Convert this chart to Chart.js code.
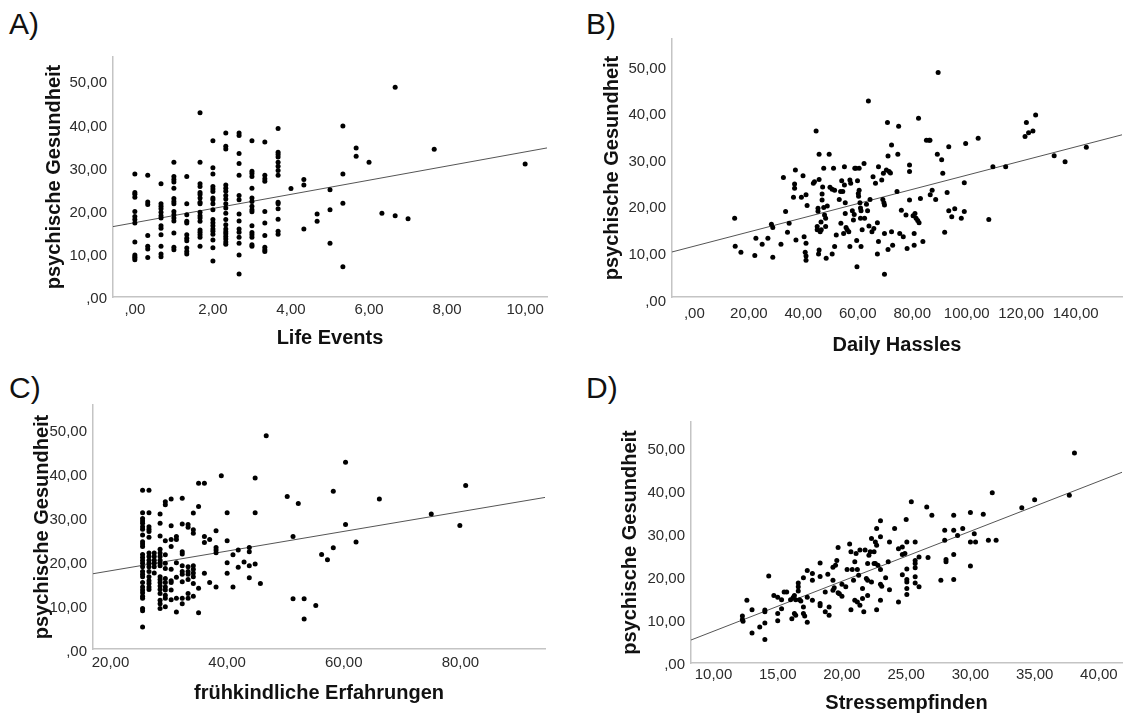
<!DOCTYPE html>
<html>
<head>
<meta charset="utf-8">
<script src="https://cdn.jsdelivr.net/npm/chart.js@4"></script>
<style>
  body { margin: 0; background: #fff; width: 1126px; height: 715px; position: relative; overflow: hidden;
         font-family: "Liberation Sans", Arial, sans-serif; }
  canvas { position: absolute; }
  .tag { position: absolute; font-size: 30px; line-height: 1; color: #111; }
</style>
</head>
<body>
<div class="tag" style="left:9px;top:9px">A)</div>
<div class="tag" style="left:586px;top:9px">B)</div>
<div class="tag" style="left:9px;top:373px">C)</div>
<div class="tag" style="left:586px;top:373px">D)</div>
<canvas id="chartA" width="560" height="360" style="left:0;top:0"></canvas>
<canvas id="chartB" width="566" height="360" style="left:560px;top:0"></canvas>
<canvas id="chartC" width="560" height="355" style="left:0;top:360px"></canvas>
<canvas id="chartD" width="566" height="355" style="left:560px;top:360px"></canvas>
<script>
// y axis is the same in all four panels
const yTitle = 'psychische Gesundheit';
const yTicks = [0, 10, 20, 30, 40, 50];

// A) Life Events - scores come in steps of 1/3, health values listed per step
const lifeEvents = [0, 0.33, 0.67, 1, 1.33, 1.67, 2, 2.33, 2.67, 3, 3.33, 3.67, 4, 4.33, 4.67, 5, 5.33, 5.67, 6, 6.33, 6.67, 7, 7.67, 10];
const healthByLifeEvents = [
  [29.0, 24.7, 24.3, 23.6, 20.3, 19.1, 18.4, 17.6, 13.2, 10.2, 9.8, 9.5, 9.1],
  [28.7, 22.5, 21.9, 14.7, 12.2, 11.6, 9.6],
  [26.7, 22.1, 21.5, 20.9, 20.1, 19.3, 18.8, 17.0, 16.4, 14.9, 12.2, 10.4, 9.8],
  [31.7, 28.4, 27.7, 27.1, 25.7, 23.3, 22.6, 22.1, 20.3, 19.5, 18.8, 18.1, 15.3, 12.0, 11.4],
  [28.4, 22.1, 19.5, 18.0, 17.6, 14.9, 14.1, 13.5, 11.8, 11.0, 10.4],
  [43.2, 31.7, 26.7, 26.1, 24.7, 24.2, 23.4, 22.4, 22.1, 20.1, 19.3, 18.8, 18.0, 16.0, 15.5, 14.9, 14.3, 12.2],
  [36.7, 30.4, 29.0, 26.1, 25.5, 24.9, 23.4, 23.0, 22.1, 20.7, 18.4, 17.7, 17.0, 16.2, 15.7, 15.0, 13.7, 11.9, 8.8],
  [38.5, 35.4, 34.8, 26.4, 25.7, 25.0, 24.0, 23.2, 22.1, 21.1, 19.9, 18.4, 17.2, 16.2, 15.6, 15.1, 14.5, 13.9, 13.2, 12.7],
  [38.5, 37.9, 33.7, 31.4, 28.7, 24.0, 23.0, 19.7, 18.1, 16.2, 15.5, 14.3, 12.9, 10.2, 5.8],
  [36.7, 29.6, 29.1, 28.4, 25.7, 23.4, 22.6, 21.5, 20.7, 20.2, 17.0, 15.4, 14.9, 14.3, 12.6, 12.2],
  [36.4, 28.7, 27.9, 27.3, 20.3, 17.6, 14.7, 12.0, 11.4, 11.0],
  [39.5, 34.0, 33.5, 32.9, 31.7, 30.8, 29.8, 28.7, 22.4, 22.1, 20.9, 18.5, 15.7, 15.0],
  [25.6],
  [27.7, 26.4, 16.2],
  [19.7, 18.0],
  [25.3, 20.7, 12.9],
  [40.1, 29.0, 22.2, 7.5],
  [35.0, 33.1],
  [31.7],
  [19.9],
  [49.1, 19.3],
  [18.6],
  [34.7],
  [31.3]
];
const fitA = [17.7, 1.64];          // intercept, slope
const xTicksA = [0, 2, 4, 6, 8, 10];

// B) Daily Hassles - [hassles, health]
const hasslesPoints = [
  [14.8,17.9],[15.0,11.9],[17.1,10.6],[22.2,9.9],[22.6,13.6],[24.9,12.3],[27.0,13.6],[28.3,16.6],[28.8,15.9],[28.8,9.5],
  [31.8,12.3],[32.7,26.6],[33.5,19.3],[34.2,14.9],[34.8,16.8],[37.1,28.2],[36.8,25.2],[36.8,24.3],[36.4,22.4],[37.3,13.2],
  [39.3,22.4],[39.9,27.0],[40.3,13.9],[40.7,10.6],[41.0,9.8],[41.0,8.9],[41.0,22.9],[41.4,20.6],[41.0,12.5],[43.7,25.4],
  [44.1,25.7],[44.7,36.6],[45.4,20.0],[45.4,19.4],[45.1,16.1],[45.1,15.4],[45.6,10.2],[45.8,26.2],[45.8,31.6],[45.8,11.1],
  [46.2,15.0],[46.5,17.1],[46.6,15.4],[46.9,23.1],[46.9,21.8],[47.1,24.6],[47.5,28.6],[47.5,20.2],[47.8,18.6],[48.2,16.1],
  [48.2,17.9],[48.4,9.3],[48.8,20.5],[49.5,31.6],[49.8,24.5],[50.6,24.1],[50.6,10.2],[51.1,28.6],[51.5,11.8],[51.5,23.9],
  [52.1,14.3],[53.2,21.9],[53.7,23.6],[54.1,25.9],[53.8,16.8],[54.5,23.6],[54.8,14.6],[55.1,28.9],[55.1,25.0],[55.4,18.9],
  [55.4,21.2],[55.7,15.9],[56.1,15.4],[56.7,15.0],[57.1,26.1],[57.4,25.4],[57.1,11.8],[58.0,19.5],[58.4,17.5],[58.7,18.7],
  [58.9,28.6],[59.3,28.6],[59.6,13.1],[59.7,7.5],[59.9,25.9],[60.2,23.2],[60.3,22.6],[60.5,28.6],[60.5,23.9],[60.8,21.2],
  [61.0,20.1],[61.0,17.9],[61.2,19.5],[61.2,11.8],[61.6,15.4],[62.3,29.6],[62.5,17.9],[63.2,20.9],[63.6,19.5],[63.9,43.0],
  [64.1,16.2],[64.5,21.9],[65.2,15.0],[65.6,26.8],[65.9,15.7],[66.5,25.4],[67.2,16.9],[67.2,10.2],[67.6,28.9],[67.6,12.9],
  [68.8,26.1],[69.2,21.9],[69.4,27.5],[69.6,21.2],[69.8,20.7],[69.8,14.6],[69.8,5.9],[70.5,28.2],[70.9,38.4],[71.1,31.2],
  [71.1,11.2],[71.5,27.9],[72.0,27.6],[72.4,33.6],[72.4,15.0],[72.8,12.1],[74.4,23.6],[74.7,31.6],[75.0,37.6],[75.4,14.6],
  [76.0,19.6],[76.7,13.9],[77.7,18.6],[78.1,11.4],[79.0,29.3],[79.0,27.9],[79.0,21.8],[80.3,18.4],[80.7,14.6],[80.7,12.1],
  [81.0,18.9],[81.4,17.9],[82.0,17.4],[82.3,39.3],[82.5,16.9],[83.0,22.1],[83.9,12.9],[85.2,34.6],[86.2,34.6],[86.5,34.6],
  [86.6,22.9],[87.3,23.9],[88.6,21.9],[89.2,31.6],[89.5,49.1],[90.8,30.4],[91.2,27.5],[91.9,14.9],[92.8,23.4],[93.4,33.2],
  [93.4,19.5],[94.5,18.2],[95.6,19.9],[98.0,17.9],[99.1,19.3],[99.1,25.5],[99.6,33.9],[104.2,35.0],[108.1,17.6],[109.6,28.9],
  [114.3,28.9],[121.4,35.4],[121.9,38.4],[122.7,36.2],[124.3,36.6],[125.3,40.0],[132.1,31.3],[136.1,30.0],[143.9,33.1]
];
const fitB = [11.9, 0.152];
const xTicksB = [0, 20, 40, 60, 80, 100, 120, 140];

// C) fruehkindliche Erfahrungen - dense columns on the left, single cases to the right
const earlyExp = [25.5, 26.6, 27.5, 28.5, 29.4, 30.4, 31.3, 32.3, 33.3, 34.2, 35.1, 36.1, 37.0, 38.1, 39.0, 40.0, 41.0, 41.9, 42.9, 43.8, 44.8, 45.7, 46.7,
                  50.3, 51.3, 52.2, 53.2, 55.2, 56.2, 57.2, 58.2, 60.3, 62.1, 66.1, 75.0, 79.9, 80.9];
const healthByEarlyExp = [
  [36.8, 31.7, 30.4, 29.8, 29.3, 28.5, 27.9, 26.6, 25.1, 24.6, 24.0, 22.2, 21.5, 20.8, 20.2, 19.4, 18.3, 17.7, 17.1, 15.8, 14.8, 14.1, 13.5, 12.7, 12.2, 9.9, 9.4, 5.7],
  [36.8, 31.7, 28.5, 27.9, 27.4, 26.1, 22.5, 21.7, 20.9, 20.2, 19.4, 18.3, 17.1, 16.2, 15.6, 14.8, 14.2],
  [22.5, 21.7, 20.9, 20.2, 19.4, 18.0],
  [31.4, 29.3, 26.4, 23.4, 22.5, 21.7, 20.9, 20.2, 19.6, 17.1, 16.5, 15.8, 15.0, 14.2, 13.3, 11.8, 11.0, 9.9],
  [34.2, 33.5, 25.3, 22.1, 20.2, 19.0, 16.7, 15.8, 14.8, 14.1, 12.9, 12.2, 10.3],
  [34.8, 28.7, 25.6, 24.0, 18.8, 16.2, 15.8, 14.1, 11.9],
  [26.3, 25.6, 20.3, 17.0, 12.2, 9.1],
  [35.0, 29.1, 22.8, 22.3, 19.6, 18.3, 17.7, 16.0, 12.2, 11.0],
  [29.0, 28.4, 19.4, 18.3, 17.7, 16.5, 13.3, 12.2],
  [31.6, 27.8, 27.0, 19.6, 18.8, 18.0, 17.1, 15.6, 12.7],
  [38.4, 33.1, 14.5, 8.9],
  [38.4, 26.3, 24.9, 17.9],
  [25.6, 15.8],
  [27.6, 23.8, 23.2, 22.6, 14.8],
  [40.1],
  [31.7, 25.3, 20.3, 17.9],
  [22.1, 14.8],
  [23.2, 19.3],
  [20.5],
  [23.8, 22.8, 19.6, 16.9],
  [39.6, 31.7, 20.0],
  [15.6],
  [49.2],
  [35.4], [26.3, 12.1], [33.8], [12.1, 7.5], [10.6], [22.2], [21.0], [36.6, 23.7], [43.2, 29.0], [25.0], [34.8], [31.4], [28.8], [37.9]
];
const fitC = [14.0, 0.224];
const xTicksC = [20, 40, 60, 80];

// D) Stressempfinden - [stress, health]
const stressPoints = [
  [12.25,11.4],[12.25,10.6],[12.3,10.2],[12.6,15.1],[13.0,12.9],[13.0,7.5],[13.6,8.9],[14.0,12.4],[14.0,12.8],[14.0,9.8],
  [14.0,6.0],[14.3,20.7],[14.7,16.2],[15.0,12.0],[15.0,10.3],[15.0,15.8],[15.3,13.1],[15.3,15.2],[15.5,17.0],[15.7,17.0],
  [16.0,15.2],[16.1,10.8],[16.2,15.7],[16.3,12.0],[16.3,16.2],[16.4,11.6],[16.4,15.2],[16.6,19.1],[16.6,18.2],[16.6,17.2],
  [16.7,15.2],[16.8,14.9],[17.0,13.5],[17.0,20.3],[17.0,12.0],[17.1,11.4],[17.3,10.0],[17.3,22.0],[17.3,15.8],[17.7,21.3],
  [17.7,19.7],[17.7,15.1],[18.3,23.7],[18.3,20.6],[18.3,14.3],[18.3,13.8],[18.7,17.0],[18.7,12.4],[18.9,21.1],[19.0,13.5],
  [19.0,11.6],[19.3,22.7],[19.3,19.7],[19.3,17.4],[19.4,18.0],[19.5,23.2],[19.6,24.3],[19.7,27.3],[19.7,16.8],[19.8,16.6],
  [20.0,16.0],[20.0,18.8],[20.3,18.2],[20.4,22.2],[20.6,28.1],[20.7,12.9],[20.7,26.3],[20.8,22.2],[20.9,19.7],[21.0,24.0],
  [21.0,15.1],[21.1,25.9],[21.2,14.7],[21.2,22.2],[21.3,20.9],[21.4,13.9],[21.4,26.7],[21.6,15.5],[21.6,17.8],[21.7,12.4],
  [21.8,26.7],[21.9,20.1],[22.0,23.6],[22.0,16.2],[22.0,19.7],[22.1,25.5],[22.2,26.3],[22.3,29.4],[22.3,19.3],[22.5,23.6],
  [22.5,26.3],[22.6,28.6],[22.6,23.6],[22.7,31.7],[22.7,12.9],[22.7,27.8],[22.8,23.2],[23.0,22.2],[23.0,18.8],[23.0,33.5],
  [23.0,29.8],[23.0,15.1],[23.1,18.3],[23.4,20.3],[23.6,24.0],[23.7,28.6],[23.7,17.5],[24.1,31.7],[24.4,14.7],[24.4,27.0],
  [24.7,27.4],[24.7,25.7],[24.7,21.0],[24.9,25.9],[25.0,33.8],[25.05,28.6],[25.05,22.3],[25.05,19.9],[25.05,19.3],[25.05,17.8],
  [25.05,16.4],[25.4,37.9],[25.7,28.6],[25.7,24.3],[25.7,23.6],[25.7,22.6],[25.7,20.5],[25.7,19.1],[26.0,25.1],[26.0,18.2],
  [26.6,36.7],[26.7,25.0],[27.0,34.8],[27.7,19.7],[28.0,31.3],[28.0,29.0],[28.1,24.5],[28.1,24.0],[28.7,34.8],[28.7,31.3],
  [28.7,25.7],[28.7,19.9],[29.0,30.1],[29.4,31.7],[30.0,35.4],[30.0,28.6],[30.0,23.0],[30.3,30.5],[30.4,28.6],[31.0,35.0],
  [31.4,29.0],[31.7,40.0],[32.0,29.0],[34.0,36.5],[35.0,38.4],[37.7,39.4],[38.1,49.2]
];
const fitD = [-3.7, 1.159];
const xTicksD = [10, 15, 20, 25, 30, 35, 40];

function fromColumns(xs, cols) {
  const pts = [];
  xs.forEach((x, i) => cols[i].forEach(y => pts.push({x: x, y: y})));
  return pts;
}
function fromPairs(pairs) {
  return pairs.map(p => ({x: p[0], y: p[1]}));
}
// SPSS style german number: 2 decimals, comma, no leading zero
function fmt(v) {
  let s = Number(v).toFixed(2).replace('.', ',');
  if (s.startsWith('0,')) s = s.slice(1);
  return s;
}

const tickFont = {family: '"Liberation Sans", Arial, sans-serif', size: 15};
const titleFont = {family: '"Liberation Sans", Arial, sans-serif', size: 20, weight: 'bold'};

// SPSS puts the axis line a hair above zero, so yr[0] is slightly positive
function makeChart(id, points, fit, xr, yr, xTicks, xTitle, box) {
  const ends = xr.map(x => ({x: x, y: fit[0] + fit[1] * x}));
  new Chart(document.getElementById(id), {
    type: 'scatter',
    data: {
      datasets: [
        {data: points, pointRadius: 2.5, pointBackgroundColor: '#000', pointBorderWidth: 0, order: 1},
        {data: ends, showLine: true, borderColor: '#555', borderWidth: 1, pointRadius: 0, order: 2}
      ]
    },
    options: {
      responsive: false,
      animation: false,
      layout: {padding: {top: box.top, right: box.right, left: 0, bottom: 0}},
      plugins: {legend: {display: false}, tooltip: {enabled: false}},
      scales: {
        x: {
          type: 'linear', min: xr[0], max: xr[1],
          grid: {display: false, drawTicks: false},
          border: {color: '#c4c4c4', width: 1.5},
          afterBuildTicks: s => { s.ticks = xTicks.map(v => ({value: v})); },
          afterFit: s => { s.height = box.xh; },
          ticks: {padding: box.xp, font: tickFont, color: '#2b2b2b', callback: v => fmt(v), maxRotation: 0, autoSkip: false},
          title: {display: true, text: xTitle, font: titleFont, color: '#111', padding: {top: 0, bottom: box.xtp}}
        },
        y: {
          type: 'linear', min: yr[0], max: yr[1],
          grid: {display: false, drawTicks: false},
          border: {color: '#c4c4c4', width: 1.5},
          afterBuildTicks: s => { s.ticks = yTicks.map(v => ({value: v})); },
          afterFit: s => { s.width = box.yw; },
          ticks: {padding: 6, font: tickFont, color: '#2b2b2b', callback: v => fmt(v), autoSkip: false},
          title: {display: true, text: yTitle, font: titleFont, color: '#111', padding: {top: box.ytp, bottom: 0}}
        }
      }
    }
  });
}

makeChart('chartA', fromColumns(lifeEvents, healthByLifeEvents), fitA, [-0.56, 10.56], [0.46, 56.1], xTicksA, 'Life Events',
  {top: 57, right: 13, yw: 113, xh: 63, xp: 4, xtp: 10, ytp: 42});
makeChart('chartB', fromPairs(hasslesPoints), fitB, [-8.2, 157], [1.0, 56.3], xTicksB, 'Daily Hassles',
  {top: 39, right: 0, yw: 112, xh: 63, xp: 8, xtp: 3, ytp: 40});
makeChart('chartC', fromColumns(earlyExp, healthByEarlyExp), fitC, [17, 94.5], [0.68, 56.2], xTicksC, 'frühkindliche Erfahrungen',
  {top: 45, right: 15, yw: 93, xh: 66, xp: 5, xtp: 10, ytp: 30});
makeChart('chartD', fromPairs(stressPoints), fitD, [8.25, 41.8], [0.53, 56.4], xTicksD, 'Stressempfinden',
  {top: 62, right: 2, yw: 131, xh: 52, xp: 3, xtp: 0, ytp: 58});
</script>
</body>
</html>
